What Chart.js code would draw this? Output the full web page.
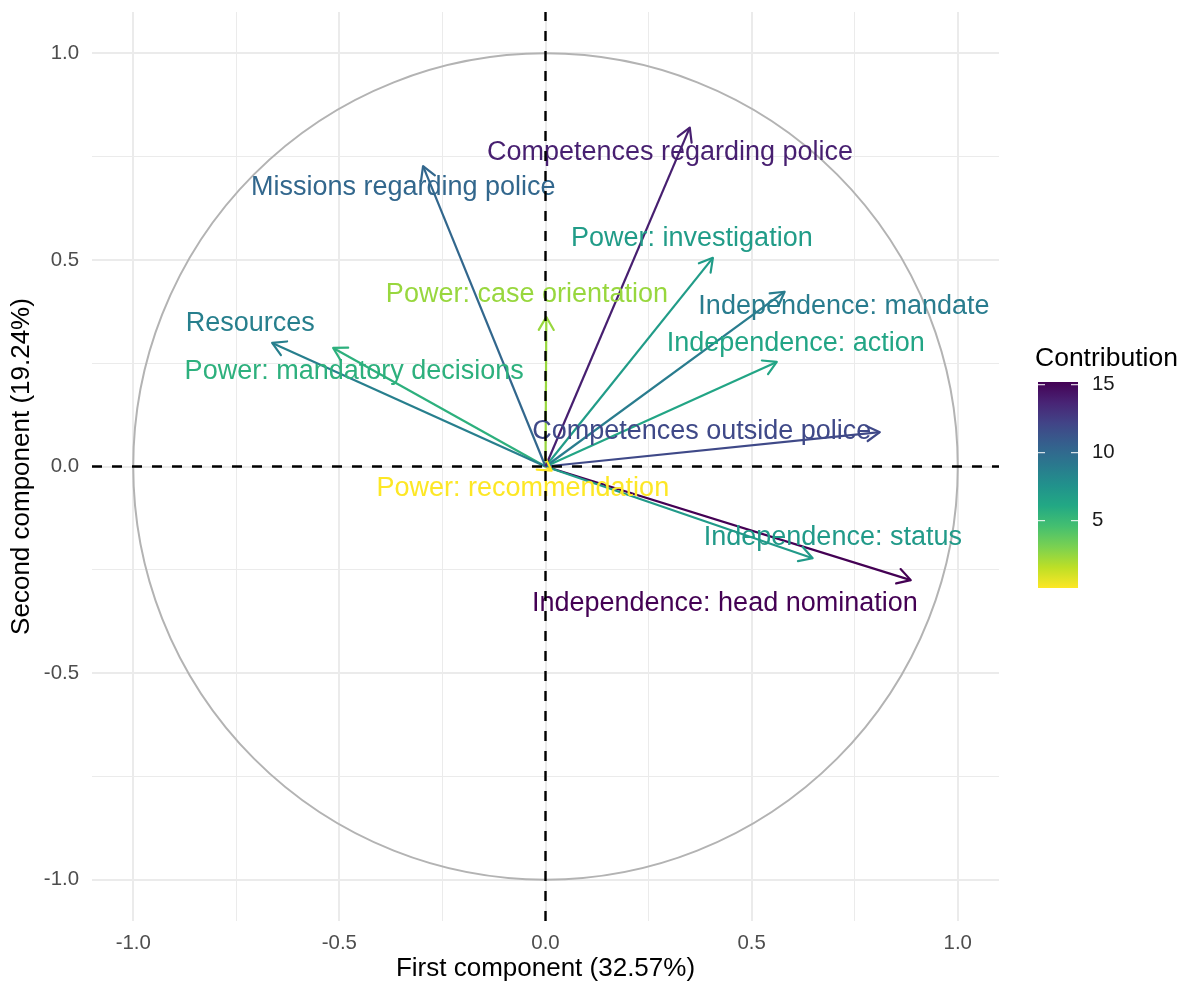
<!DOCTYPE html>
<html>
<head>
<meta charset="utf-8">
<script src="https://cdn.jsdelivr.net/npm/chart.js@4.4.0/dist/chart.umd.min.js"></script>
<style>
body { margin: 0; background: #fff; }
#wrap { width: 1185px; height: 984px; }
</style>
</head>
<body>
<div id="wrap"><canvas id="myChart"></canvas></div>
<script>
// variables of the PCA (correlation circle)
var variables = [
    'Competences regarding police',
    'Missions regarding police',
    'Power: investigation',
    'Power: case orientation',
    'Independence: mandate',
    'Independence: action',
    'Resources',
    'Power: mandatory decisions',
    'Competences outside police',
    'Power: recommendation',
    'Independence: status',
    'Independence: head nomination'
];

var dim1 = [0.350, -0.297, 0.406, 0.002, 0.580, 0.561, -0.663, -0.515, 0.811, 0.015, 0.648, 0.886];
var dim2 = [0.820, 0.727, 0.505, 0.362, 0.423, 0.253, 0.299, 0.287, 0.083, -0.010, -0.222, -0.275];
var contrib = [13.9, 10.2, 6.9, 2.4, 8.9, 6.3, 8.7, 5.6, 11.9, 0.05, 7.0, 15.2];

// where the (repelled) labels sit, in component units
var labelX = [0.302, -0.345, 0.355, -0.045, 0.724, 0.607, -0.716, -0.464, 0.379, -0.055, 0.697, 0.435];
var labelY = [0.761, 0.674, 0.551, 0.415, 0.386, 0.297, 0.347, 0.231, 0.084, -0.054, -0.173, -0.331];

var axisTicks = [-1, -0.75, -0.5, -0.25, 0, 0.25, 0.5, 0.75, 1];
var legendTicks = [5, 10, 15];

var FONT = '"Liberation Sans", Arial, Helvetica, sans-serif';

var viridis = ['#440154', '#482475', '#414487', '#355f8d', '#2a788e', '#21918c',
               '#22a884', '#44bf70', '#7ad151', '#bddf26', '#fde725'];

function hexToRgb(h) {
    return [parseInt(h.substr(1, 2), 16), parseInt(h.substr(3, 2), 16), parseInt(h.substr(5, 2), 16)];
}

function viridisAt(t) {
    t = Math.max(0, Math.min(1, t));
    var p = t * (viridis.length - 1);
    var i = Math.min(Math.floor(p), viridis.length - 2);
    var f = p - i;
    var a = hexToRgb(viridis[i]), b = hexToRgb(viridis[i + 1]);
    var c = a.map(function(v, k) { return Math.round(v + (b[k] - v) * f); });
    return 'rgb(' + c[0] + ',' + c[1] + ',' + c[2] + ')';
}

var cMin = Math.min.apply(null, contrib);
var cMax = Math.max.apply(null, contrib);

// reversed viridis: low = yellow, high = purple
function colourFor(v) {
    return viridisAt(1 - (v - cMin) / (cMax - cMin));
}

var colours = contrib.map(colourFor);

var datasets = variables.map(function(name, i) {
    return {
        label: name,
        data: [{x: 0, y: 0}, {x: dim1[i], y: dim2[i]}],
        showLine: true,
        borderColor: colours[i],
        borderWidth: 2.2,
        pointRadius: 0,
        pointHoverRadius: 0,
        fill: false
    };
});

// unit circle, drawn before the arrows
var circlePlugin = {
    id: 'circle',
    beforeDatasetsDraw: function(chart) {
        var x = chart.scales.x, y = chart.scales.y, ctx = chart.ctx;
        var cx = x.getPixelForValue(0), cy = y.getPixelForValue(0);
        var rx = x.getPixelForValue(1) - cx, ry = cy - y.getPixelForValue(1);
        ctx.save();
        ctx.strokeStyle = '#b3b3b3';
        ctx.lineWidth = 2;
        ctx.beginPath();
        ctx.ellipse(cx, cy, rx, ry, 0, 0, Math.PI * 2);
        ctx.stroke();
        ctx.restore();
    }
};

// arrow heads, labels and the dashed axes
var arrowPlugin = {
    id: 'arrows',
    afterDatasetsDraw: function(chart) {
        var ctx = chart.ctx, x = chart.scales.x, y = chart.scales.y;
        var area = chart.chartArea;

        ctx.save();
        chart.data.datasets.forEach(function(ds, i) {
            var pts = chart.getDatasetMeta(i).data;
            var x0 = pts[0].x, y0 = pts[0].y, x1 = pts[1].x, y1 = pts[1].y;
            var ang = Math.atan2(y1 - y0, x1 - x0);
            var len = 15, spread = Math.PI / 6;
            ctx.strokeStyle = ds.borderColor;
            ctx.lineWidth = 2.2;
            ctx.lineCap = 'round';
            ctx.lineJoin = 'round';
            ctx.beginPath();
            ctx.moveTo(x1 - len * Math.cos(ang - spread), y1 - len * Math.sin(ang - spread));
            ctx.lineTo(x1, y1);
            ctx.lineTo(x1 - len * Math.cos(ang + spread), y1 - len * Math.sin(ang + spread));
            ctx.stroke();
        });

        ctx.font = '27px ' + FONT;
        ctx.textAlign = 'center';
        ctx.textBaseline = 'middle';
        variables.forEach(function(name, i) {
            ctx.fillStyle = colours[i];
            ctx.fillText(name, x.getPixelForValue(labelX[i]), y.getPixelForValue(labelY[i]));
        });

        ctx.strokeStyle = '#000';
        ctx.lineWidth = 2.4;
        ctx.lineCap = 'butt';
        ctx.setLineDash([10, 10]);
        var zx = x.getPixelForValue(0), zy = y.getPixelForValue(0);
        ctx.beginPath();
        ctx.moveTo(area.left, zy);
        ctx.lineTo(area.right, zy);
        ctx.stroke();
        ctx.beginPath();
        ctx.moveTo(zx, area.bottom);
        ctx.lineTo(zx, area.top);
        ctx.stroke();
        ctx.restore();
    }
};

// colour bar legend
var legendPlugin = {
    id: 'colourbar',
    afterDraw: function(chart) {
        var ctx = chart.ctx;
        var left = 1038, width = 40, top = 382, bottom = 588;

        ctx.save();
        var grad = ctx.createLinearGradient(0, top, 0, bottom);
        for (var k = 0; k <= 20; k++) {
            var v = cMax - (cMax - cMin) * k / 20;
            grad.addColorStop(k / 20, colourFor(v));
        }
        ctx.fillStyle = grad;
        ctx.fillRect(left, top, width, bottom - top);

        ctx.font = '26.5px ' + FONT;
        ctx.fillStyle = '#000';
        ctx.textAlign = 'left';
        ctx.textBaseline = 'middle';
        ctx.fillText('Contribution', 1035, 359);

        ctx.font = '20.4px ' + FONT;
        ctx.fillStyle = '#1a1a1a';
        legendTicks.forEach(function(t) {
            var py = bottom - (t - cMin) / (cMax - cMin) * (bottom - top);
            ctx.strokeStyle = '#ffffff';
            ctx.lineWidth = 1;
            ctx.beginPath();
            ctx.moveTo(left, py); ctx.lineTo(left + 7, py);
            ctx.moveTo(left + width - 7, py); ctx.lineTo(left + width, py);
            ctx.stroke();
            ctx.fillText(String(t), 1092, py);
        });
        ctx.restore();
    }
};

function setTicks(scale) {
    scale.ticks = axisTicks.map(function(v) { return {value: v}; });
}

function isMajor(v) {
    return Math.abs(v * 2 - Math.round(v * 2)) < 1e-6;
}

function gridColour(c) { return '#ebebeb'; }
function gridWidth(c) { return c.tick && isMajor(c.tick.value) ? 2 : 1; }
function tickLabel(v) { return isMajor(v) ? Number(v).toFixed(1) : ''; }

var ctx = document.getElementById('myChart').getContext('2d');

var myChart = new Chart(ctx, {
    type: 'scatter',
    data: { datasets: datasets },
    options: {
        responsive: true,
        maintainAspectRatio: false,
        animation: false,
        layout: { padding: { left: 0, right: 186, top: 12, bottom: 0 } },
        plugins: {
            legend: { display: false },
            tooltip: { enabled: false }
        },
        scales: {
            x: {
                type: 'linear',
                min: -1.1,
                max: 1.1,
                afterBuildTicks: setTicks,
                afterFit: function(s) {
                    s.height = 63;
                    s.paddingLeft = 0;
                    s.paddingRight = 0;
                },
                border: { display: false },
                grid: { color: gridColour, lineWidth: gridWidth, drawTicks: false },
                ticks: { callback: tickLabel, padding: 10, color: '#4d4d4d', font: { family: FONT, size: 20.4 } },
                title: { display: true, text: 'First component (32.57%)', color: '#000',
                         font: { family: FONT, size: 26 }, padding: { top: 0, bottom: 0 } }
            },
            y: {
                type: 'linear',
                min: -1.1,
                max: 1.1,
                afterBuildTicks: setTicks,
                afterFit: function(s) {
                    s.width = 92;
                    s.paddingTop = 0;
                    s.paddingBottom = 0;
                },
                border: { display: false },
                grid: { color: gridColour, lineWidth: gridWidth, drawTicks: false },
                ticks: { callback: tickLabel, padding: 13, color: '#4d4d4d', font: { family: FONT, size: 20.4 } },
                title: { display: true, text: 'Second component (19.24%)', color: '#000',
                         font: { family: FONT, size: 26 }, padding: { top: 6, bottom: 0 } }
            }
        }
    },
    plugins: [circlePlugin, arrowPlugin, legendPlugin]
});
</script>
</body>
</html>
